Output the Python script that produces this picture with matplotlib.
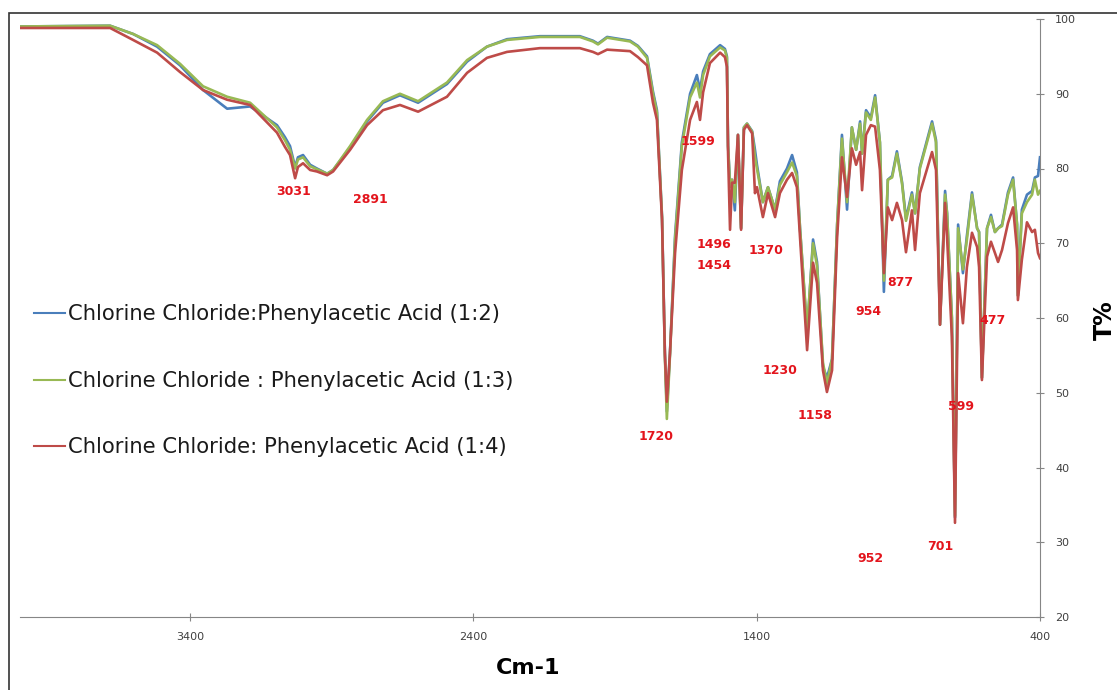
import matplotlib
matplotlib.use("Agg")
import matplotlib.pyplot as plt
from matplotlib.patches import Rectangle

# wavenumber grid (cm-1)
wn = [4000, 3682, 3601, 3516, 3435, 3354, 3269, 3188, 3093, 3065,
      3047, 3029, 3019, 3001, 2976, 2952, 2916, 2895, 2835, 2775,
      2719, 2659, 2595, 2493, 2422, 2352, 2281, 2165, 2024, 1978,
      1960, 1928, 1847, 1819, 1787, 1766, 1752, 1734, 1724, 1717,
      1706, 1688, 1664, 1635, 1611, 1600, 1589, 1565, 1529, 1512,
      1505, 1501, 1494, 1487, 1477, 1466, 1455, 1445, 1434, 1416,
      1406, 1399, 1378, 1360, 1335, 1318, 1293, 1275, 1258, 1247,
      1222, 1201, 1187, 1166, 1152, 1134, 1116, 1099, 1081, 1064,
      1049, 1035, 1028, 1014, 997, 982, 965, 951, 937, 922,
      905, 887, 873, 852, 841, 824, 781, 767, 753, 735,
      728, 711, 700, 689, 672, 658, 640, 622, 615, 605,
      587, 573, 559, 548, 534, 513, 495, 481, 478, 464,
      446, 428, 418, 407, 400]

# T% for 1:2 (blue)
t_12 = [99.0, 99.1, 98.0, 96.3, 93.8, 90.5, 88.0, 88.3, 85.8, 84.2,
        83.0, 80.2, 81.5, 81.8, 80.5, 80.0, 79.3, 79.8, 82.8, 86.3,
        88.8, 89.8, 88.8, 91.3, 94.3, 96.3, 97.3, 97.7, 97.7, 97.1,
        96.7, 97.6, 97.1, 96.4, 95.0, 90.3, 87.8, 73.5, 55.5, 47.5,
        55.3, 71.0, 83.5, 90.0, 92.5, 90.5, 93.0, 95.3, 96.5, 96.0,
        95.0, 83.0, 78.0, 78.5, 74.4, 84.5, 72.0, 85.5, 86.0, 85.0,
        82.5, 80.5, 75.5, 77.5, 74.5, 78.3, 80.0, 81.8, 79.5, 72.0,
        58.0, 70.5, 67.5, 53.5, 52.0, 54.5, 72.5, 84.5, 74.5, 85.5,
        82.5, 86.3, 82.0, 87.8, 86.8, 89.8, 83.5, 63.5, 78.5, 79.0,
        82.3, 78.2, 73.3, 76.8, 74.0, 80.2, 86.3, 83.8, 59.1, 77.0,
        74.0, 60.0, 33.3, 72.5, 66.0, 71.0, 76.8, 72.0, 71.5, 52.0,
        72.0, 73.8, 71.5, 72.0, 72.5, 76.8, 78.8, 72.5, 63.0, 74.5,
        76.5, 77.0, 78.8, 79.0, 81.5]

# T% for 1:3 (green)
t_13 = [99.0, 99.1, 98.0, 96.5, 94.0, 91.0, 89.6, 88.8, 85.5, 83.8,
        82.5, 80.0, 81.2, 81.5, 80.3, 79.9, 79.3, 79.8, 83.0, 86.5,
        89.0, 90.0, 89.0, 91.5, 94.5, 96.3, 97.2, 97.6, 97.6, 97.0,
        96.6, 97.5, 97.0, 96.3, 94.8, 90.0, 87.5, 73.5, 55.0, 46.5,
        55.0, 70.5, 83.0, 89.5, 91.5, 89.5, 92.5, 95.0, 96.2, 95.8,
        94.8, 83.0, 77.5, 78.5, 75.5, 84.5, 72.0, 85.5, 86.0, 84.9,
        81.5, 80.0, 75.5, 77.5, 74.5, 77.8, 79.5, 80.8, 79.0, 72.0,
        58.5, 70.0, 67.0, 54.0, 51.2, 54.5, 72.5, 84.0, 75.5, 85.5,
        82.5, 86.0, 82.0, 87.5, 86.5, 89.5, 83.5, 65.0, 78.5, 78.8,
        82.0, 78.0, 73.0, 76.5, 74.0, 80.0, 86.0, 83.5, 59.1, 76.5,
        74.0, 60.0, 33.5, 72.0, 66.5, 70.5, 76.5, 72.0, 71.5, 52.0,
        72.0, 73.5, 71.5, 72.0, 72.3, 76.5, 78.5, 72.5, 63.0, 74.0,
        75.5, 76.5, 78.5, 76.5, 77.0]

# T% for 1:4 (red)
t_14 = [98.8, 98.8, 97.2, 95.5, 92.9, 90.5, 89.2, 88.5, 84.8, 82.9,
        81.8, 78.7, 80.2, 80.7, 79.8, 79.6, 79.1, 79.6, 82.5, 85.8,
        87.8, 88.5, 87.6, 89.6, 92.8, 94.8, 95.6, 96.1, 96.1, 95.6,
        95.3, 95.9, 95.7, 94.9, 93.8, 88.8, 86.5, 73.1, 55.3, 48.8,
        55.3, 68.7, 79.8, 86.5, 88.9, 86.5, 90.2, 94.1, 95.5, 94.9,
        93.6, 82.1, 71.8, 78.1, 78.1, 84.5, 71.8, 85.2, 85.8, 84.7,
        76.7, 77.5, 73.5, 76.7, 73.5, 76.7, 78.5, 79.4, 77.5, 70.8,
        55.7, 67.4, 64.7, 53.0, 50.1, 53.0, 70.8, 81.5, 76.2, 82.7,
        80.5, 82.2, 77.1, 84.5, 85.8, 85.6, 79.8, 66.0, 74.8, 73.1,
        75.4, 73.1, 68.8, 74.4, 69.1, 76.7, 82.2, 79.8, 59.1, 75.4,
        70.8, 57.5, 32.6, 66.0, 59.3, 66.8, 71.4, 69.5, 66.8, 51.7,
        68.2, 70.2, 68.7, 67.5, 69.1, 72.7, 74.8, 69.1, 62.4, 67.8,
        72.8, 71.5, 71.8, 68.7, 68.0]

series_names = ["Chlorine Chloride:Phenylacetic Acid (1:2)",
                "Chlorine Chloride : Phenylacetic Acid (1:3)",
                "Chlorine Chloride: Phenylacetic Acid (1:4)"]

peak_text = ["3031", "2891", "1599", "1496", "1454", "1370", "1720", "1230",
             "1158", "954", "877", "477", "599", "701", "952"]
peak_x = [3033, 2765, 1607, 1551, 1551, 1367, 1755, 1318,
          1194, 1004, 894, 566, 679, 753, 997]
peak_y = [76.9, 75.9, 83.6, 69.8, 67.0, 69.0, 44.1, 53.0,
          47.0, 60.9, 64.8, 59.6, 48.2, 29.4, 27.8]

W, H = 1117, 690
fig = plt.figure(figsize=(W / 100, H / 100), dpi=100)
ax = fig.add_axes([20 / W, 1 - 617 / H, 1020 / W, 598 / H])

colors = ["#4a7ebb", "#98b954", "#be4b48"]
for t, c, name in zip([t_12, t_13, t_14], colors, series_names):
    ax.plot(wn, t, color=c, lw=1.9, label=name)

for s, x, y in zip(peak_text, peak_x, peak_y):
    ax.text(x, y, s, color="#e3141c", fontsize=9, fontweight="bold",
            ha="center", va="center")

ax.set_xlim(4000, 400)
ax.set_ylim(20, 100)
ax.set_xticks([3400, 2400, 1400, 400])
ax.set_yticks(range(20, 101, 10))
ax.yaxis.tick_right()
for side in ["top", "left"]:
    ax.spines[side].set_visible(False)
for side in ["bottom", "right"]:
    ax.spines[side].set_color("#868686")
ax.tick_params(axis="both", direction="inout", length=6, color="#868686",
               labelsize=8, labelcolor="#404040")
ax.tick_params(axis="x", pad=8)
ax.tick_params(axis="y", pad=8)

fig.text(1105 / W, 1 - 320 / H, "T%", rotation=90, fontsize=17,
         fontweight="bold", ha="center", va="center")
fig.text(528 / W, 1 - 668 / H, "Cm-1", fontsize=16, fontweight="bold",
         ha="center", va="center")

leg = ax.legend(loc="upper left", bbox_to_anchor=(26 / W, 1 - 296 / H),
                bbox_transform=fig.transFigure, frameon=False,
                fontsize=15.2, handlelength=1.45, handletextpad=0.12,
                labelspacing=2.2, borderaxespad=0)
for line in leg.get_lines():
    line.set_linewidth(1.5)
for txt in leg.get_texts():
    txt.set_color("#1a1a1a")

fig.patches.append(Rectangle((9 / W, -0.05), 1.2, 1 - 13 / H + 0.05,
                             transform=fig.transFigure, fill=False,
                             edgecolor="#333333", lw=1.2))

fig.savefig("out.png", dpi=100)
